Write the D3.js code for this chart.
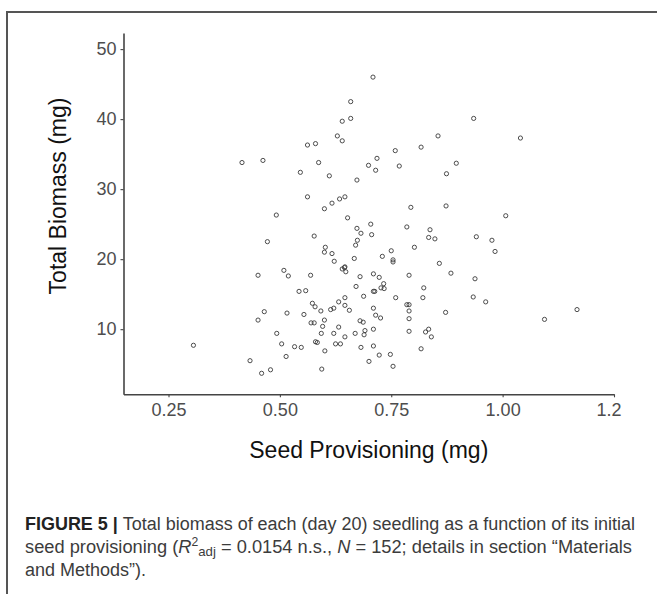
<!DOCTYPE html>
<meta charset="utf-8"/>
<style>
  body { margin: 0; background: #fff; }
  svg text { font-family: "Liberation Sans", Arial, sans-serif; }
</style>
<svg width="657" height="594"></svg>
<script src="https://cdn.jsdelivr.net/npm/d3@7/dist/d3.min.js"></script>
<script>

// seed provisioning (mg)
var seedProvision = [
  0.415, 0.462, 0.546, 0.562, 0.580, 0.587, 0.611, 0.629, 0.640, 0.640,
  0.659, 0.659, 0.673, 0.699, 0.562, 0.617, 0.634, 0.646, 0.600, 0.709,
  0.935, 0.855, 1.040, 0.817, 0.759, 0.718, 0.715, 0.768, 0.896, 0.874,
  0.794, 0.873, 0.492, 0.652, 0.704, 0.673, 0.682, 0.577, 0.472, 0.674,
  0.670, 0.602, 0.600, 0.617, 0.622, 0.667, 0.646, 0.640, 0.648, 0.451,
  0.509, 0.519, 0.569, 0.680, 0.671, 0.543, 0.558, 0.688, 0.646, 0.573,
  0.579, 0.632, 0.646, 0.592, 0.614, 0.621, 0.656, 0.465, 0.516, 0.554,
  0.451, 0.600, 0.680, 0.687, 0.570, 0.577, 0.596, 0.632, 0.691, 0.493,
  0.593, 0.621, 0.669, 0.689, 0.646, 0.580, 0.584, 0.504, 0.625, 0.636,
  0.306, 0.533, 0.548, 0.682, 0.601, 0.514, 0.433, 0.700, 0.479, 0.459,
  0.594, 1.007, 0.706, 0.785, 0.837, 0.834, 0.848, 0.941, 0.976, 0.983,
  0.802, 0.750, 0.730, 0.754, 0.754, 0.858, 0.884, 0.938, 0.790, 0.710,
  0.723, 0.733, 0.727, 0.734, 0.710, 0.713, 0.823, 0.821, 0.760, 0.934,
  0.962, 1.167, 1.094, 0.785, 0.790, 0.790, 0.872, 0.710, 0.715, 0.726,
  0.790, 0.710, 0.790, 0.834, 0.827, 0.840, 0.710, 0.748, 0.723, 0.817,
  0.754, 0.645
];

// total biomass (mg), same order
var totalBiomass = [
  33.8, 34.1, 32.4, 36.3, 36.5, 33.8, 31.9, 37.6, 36.9, 39.7,
  42.5, 40.1, 31.3, 33.4, 28.9, 28.0, 28.6, 28.9, 27.2, 46.0,
  40.1, 37.6, 37.3, 36.0, 35.5, 34.4, 32.7, 33.3, 33.7, 32.2,
  27.4, 27.6, 26.3, 25.9, 25.0, 24.4, 23.7, 23.3, 22.5, 22.7,
  22.0, 21.7, 21.0, 20.8, 19.7, 20.1, 18.9, 18.6, 18.2, 17.7,
  18.4, 17.6, 17.7, 17.5, 16.1, 15.4, 15.5, 14.7, 14.5, 13.7,
  13.2, 13.9, 13.4, 12.6, 12.8, 13.0, 12.7, 12.5, 12.3, 12.1,
  11.3, 11.3, 11.2, 11.0, 10.9, 10.9, 10.4, 10.3, 9.8, 9.4,
  9.4, 9.4, 9.4, 9.2, 8.9, 8.2, 8.1, 7.9, 7.9, 7.9,
  7.7, 7.5, 7.4, 7.4, 6.9, 6.1, 5.5, 5.4, 4.2, 3.7,
  4.3, 26.2, 23.5, 24.6, 24.2, 23.1, 22.9, 23.2, 22.7, 21.1,
  21.7, 21.2, 20.4, 19.9, 19.6, 19.4, 18.0, 17.2, 17.7, 17.9,
  17.4, 16.5, 15.9, 15.8, 15.4, 15.4, 15.9, 14.5, 14.5, 14.6,
  13.9, 12.8, 11.4, 13.5, 13.5, 12.6, 12.4, 13.0, 12.0, 11.6,
  11.5, 10.0, 9.7, 10.0, 9.6, 8.9, 7.6, 6.4, 6.3, 7.2,
  4.7, 18.8
];

var xTicks = [0.25, 0.50, 0.75, 1.00, 1.25];
var xTickLabels = ["0.25", "0.50", "0.75", "1.00", "1.2"];
var yTicks = [10, 20, 30, 40, 50];

var svg = d3.select("svg");

// figure frame (only top and left edges fall inside the crop)
svg.append("path")
    .attr("d", "M7,600 L7,12 L660,12")
    .attr("fill", "none")
    .attr("stroke", "#555")
    .attr("stroke-width", 2);

var x = d3.scaleLinear().domain([0.149, 1.25]).range([123.5, 614]);
var y = d3.scaleLinear().domain([0.7, 52.3]).range([394.3, 33]);

var xAxis = svg.append("g")
    .attr("transform", "translate(0,394.3)")
    .call(d3.axisBottom(x)
        .tickValues(xTicks)
        .tickFormat(function(d, i) { return xTickLabels[i]; })
        .tickSize(3).tickSizeOuter(0).tickPadding(6));

var yAxis = svg.append("g")
    .attr("transform", "translate(123.5,0)")
    .call(d3.axisLeft(y)
        .tickValues(yTicks)
        .tickSize(3).tickSizeOuter(0).tickPadding(4));

[xAxis, yAxis].forEach(function(ax) {
    ax.select(".domain").attr("stroke", "#444").attr("stroke-width", 1.6);
    ax.selectAll(".tick line").attr("stroke", "#444").attr("stroke-width", 1.1);
    ax.selectAll(".tick text")
        .attr("fill", "#4d4d4d")
        .style("font-size", "18px")
        .style("font-family", "'Liberation Sans', Arial, sans-serif");
});

// the last label is cut off in the original ("1.25" -> "1.2")
xAxis.selectAll(".tick text")
    .filter(function(d, i) { return i == xTicks.length - 1; })
    .attr("text-anchor", "start")
    .attr("dx", -18);

// points
var pts = d3.range(seedProvision.length);
svg.append("g").selectAll("circle")
    .data(pts)
  .enter().append("circle")
    .attr("cx", function(i) { return x(seedProvision[i]); })
    .attr("cy", function(i) { return y(totalBiomass[i]); })
    .attr("r", 2.1)
    .attr("fill", "none")
    .attr("stroke", "#3a3a3a")
    .attr("stroke-width", 0.9);

// axis titles
svg.append("text")
    .attr("x", 368.8)
    .attr("y", 458)
    .attr("text-anchor", "middle")
    .style("font-size", "23px")
    .attr("fill", "#111")
    .text("Seed Provisioning (mg)");

svg.append("text")
    .attr("transform", "translate(66,196) rotate(-90)")
    .attr("text-anchor", "middle")
    .style("font-size", "23px")
    .attr("fill", "#111")
    .text("Total Biomass (mg)");

// caption
var capSize = 18;
var line1 = svg.append("text")
    .attr("x", 25).attr("y", 530)
    .style("font-size", capSize + "px")
    .attr("fill", "#3c3c3c");
line1.append("tspan").attr("font-weight", "bold").attr("fill", "#222").text("FIGURE 5 | ");
line1.append("tspan").text("Total biomass of each (day 20) seedling as a function of its initial");
line1.attr("textLength", 610).attr("lengthAdjust", "spacingAndGlyphs");

var line2 = svg.append("text")
    .attr("x", 25).attr("y", 553)
    .style("font-size", capSize + "px")
    .attr("fill", "#3c3c3c");
line2.append("tspan").text("seed provisioning (");
line2.append("tspan").attr("font-style", "italic").text("R");
line2.append("tspan").attr("dy", -7).style("font-size", "12px").text("2");
line2.append("tspan").attr("dy", 10).style("font-size", "13px").text("adj");
line2.append("tspan").attr("dy", -3).text(" = 0.0154 n.s., ");
line2.append("tspan").attr("font-style", "italic").text("N");
line2.append("tspan").text(" = 152; details in section \u201cMaterials");
line2.attr("textLength", 607).attr("lengthAdjust", "spacingAndGlyphs");

svg.append("text")
    .attr("x", 25).attr("y", 576)
    .style("font-size", capSize + "px")
    .attr("fill", "#3c3c3c")
    .text("and Methods\u201d).");

</script>
